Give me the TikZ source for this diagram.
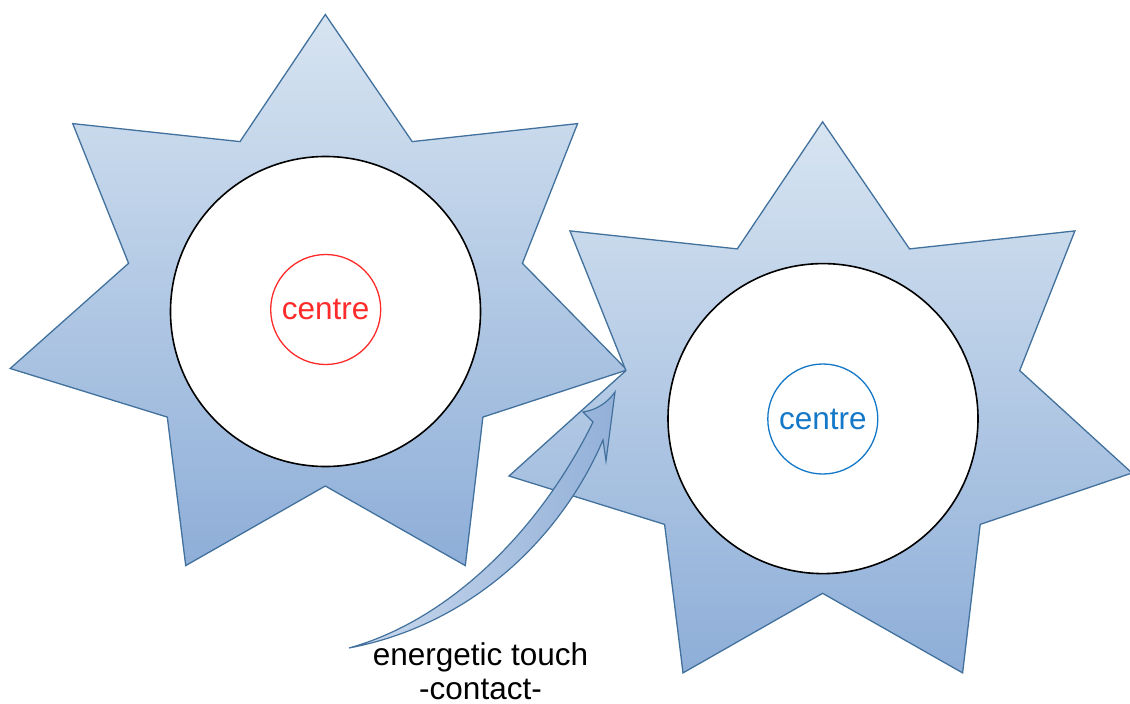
\documentclass[tikz,border=0pt]{standalone}
\usepackage{fontspec}
\setmainfont{Liberation Sans}
\definecolor{starline}{HTML}{41719C}
\definecolor{startop}{HTML}{D7E4F1}
\definecolor{starbot}{HTML}{8EAED8}
\definecolor{arrowlight}{HTML}{CCDBEE}
\definecolor{arrowdark}{HTML}{93B0D8}
\definecolor{hubred}{HTML}{FF2A2A}
\definecolor{hubblue}{HTML}{1478C8}
\tikzset{
  starshape/.style={draw=starline, line width=1.3pt, line join=miter, top color=startop, bottom color=starbot},
  disc/.style={circle, draw=black, line width=1.6pt, fill=white, minimum size=310pt, inner sep=0pt},
  hub/.style={circle, line width=1.3pt, minimum size=110pt, inner sep=0pt, font=\fontsize{31.5}{36}\selectfont},
  curvedarrow/.style={draw=starline, line width=1.2pt, line join=miter, left color=arrowlight, right color=arrowdark},
  captiontext/.style={inner sep=0pt, anchor=base, font=\fontsize{31.5}{36}\selectfont}
}
\begin{document}
\begin{tikzpicture}[x=1pt,y=-1pt]
\useasboundingbox (0,0) rectangle (1130,704);
% left star
\path[starshape] (325.3,14.5) -- (412.2,141.6) -- (577.6,123.6) -- (522.4,263.3) -- (627,370) -- (482.9,417.1) -- (465.3,565.6) -- (325.3,486) -- (185.7,565.6) -- (167.3,417.1) -- (10.2,368.5) -- (128.6,263.3) -- (72.7,123.6) -- (240,141.6) -- cycle;
\node[disc] (discL) at (325.5,311.5) {};
\node[hub, draw=hubred, text=hubred] (hubL) at (325.7,309.5) {centre};
% right star
\path[starshape] (822.6,121.8) -- (909.5,248.9) -- (1074.9,230.9) -- (1019.7,370.6) -- (1132,473) -- (980.2,524.4) -- (962.6,672.9) -- (822.6,593.3) -- (683,672.9) -- (664.6,524.4) -- (509,476) -- (625.9,370.6) -- (570,230.9) -- (737.3,248.9) -- cycle;
\node[disc] (discR) at (823,418.6) {};
\node[hub, draw=hubblue, text=hubblue] (hubR) at (822.8,419) {centre};
% curved arrow
\coordinate (tail) at (349,648);
\coordinate (tip) at (615,392);
\path[curvedarrow] (tail) .. controls (470,625) and (560,540) .. (603,440) -- (606,461) -- (tip) .. controls (608,402) and (597,410) .. (583,412) -- (593,422) .. controls (540,530) and (450,620) .. (tail) -- cycle;
% caption
\node[captiontext] (cap1) at (480.5,665) {energetic touch};
\node[captiontext] (cap2) at (480.5,699) {-contact-};
\end{tikzpicture}
\end{document}
